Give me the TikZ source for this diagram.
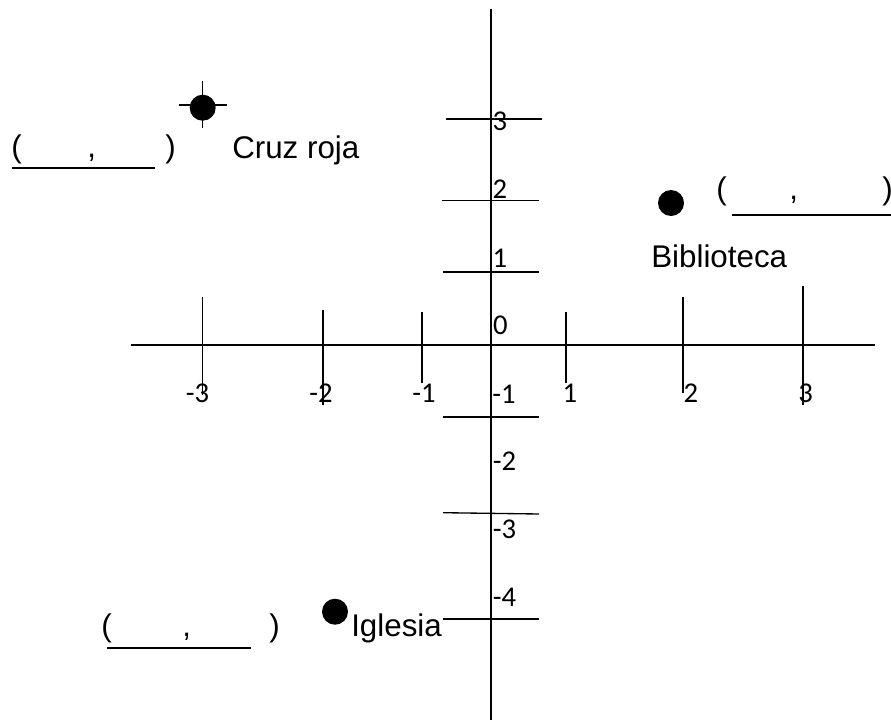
\documentclass[tikz,border=0pt]{standalone}
\usepackage{fontspec}
\setmainfont{Liberation Sans}
\newfontfamily\tickfont{Carlito}
\begin{document}
\begin{tikzpicture}[x=0.75pt,y=-0.75pt,
  axis/.style={line width=1.3pt,black},
  xtick/.style={line width=1.3pt,black},
  ytick/.style={line width=1pt,black},
  uline/.style={line width=1pt,black},
  lbl/.style={font=\fontsize{23.5}{26}\selectfont,inner sep=0pt,anchor=base west},
  num/.style={font=\tickfont\fontsize{21.5}{24}\selectfont,inner sep=0pt,anchor=base},
  dot/.style={circle,fill=black,inner sep=0pt,minimum size=19.5pt}]
\useasboundingbox (0,0) rectangle (891,724);
% axes
\coordinate (vtop) at (490.7,9);
\coordinate (vbot) at (490.7,720);
\coordinate (hl) at (131,345);
\coordinate (hr) at (875,345);
\draw[axis] (vtop) -- (vbot);
\draw[axis] (hl) -- (hr);
% x ticks
\draw[xtick] (202.5,297) -- (202.5,395);
\draw[xtick] (322.7,310) -- (322.7,405);
\draw[xtick] (421.7,312) -- (421.7,383);
\draw[xtick] (565.7,312) -- (565.7,383);
\draw[xtick] (682.7,297) -- (682.7,393);
\draw[xtick] (802.7,286) -- (802.7,405);
% y ticks
\draw[ytick] (446,119) -- (542,119);
\draw[ytick] (442,200.5) -- (539,200.5);
\draw[ytick] (443,272) -- (539,272);
\draw[ytick] (443,417) -- (539,417);
\draw[ytick] (443,512.7) -- (539,514);
\draw[ytick] (443,619) -- (539,619);
% x labels
\node[num] (xm3) at (197.5,402) {-3};
\node[num] (xm2) at (321,402) {-2};
\node[num] (xm1) at (424,402) {-1};
\node[num] (xp1) at (570,402) {1};
\node[num] (xp2) at (691,402) {2};
\node[num] (xp3) at (805.5,402) {3};
% y labels
\node[num] (yp3) at (500,130) {3};
\node[num] (yp2) at (500,198) {2};
\node[num] (yp1) at (500,267) {1};
\node[num] (y0) at (500.5,334) {0};
\node[num] (ym1) at (504,403) {-1};
\node[num] (ym2) at (504.5,470) {-2};
\node[num] (ym3) at (504.5,538) {-3};
\node[num] (ym4) at (504.5,606.5) {-4};
% Cruz roja
\node[dot] (cruz) at (202.7,107.7) {};
\draw[line width=1pt] (179,105) -- (226.7,105);
\draw[line width=1pt] (202.7,81) -- (202.7,128.3);
\node[lbl] (cruzl) at (232,158) {Cruz roja};
\node[lbl] (cp1) at (11,157) {(};
\node[lbl] (cc) at (87,157) {,};
\node[lbl] (cp2) at (165,157) {)};
\draw[uline] (12,168) -- (155,168);
% Biblioteca
\node[dot] (bib) at (671,203) {};
\node[lbl] (bibl) at (651,267) {Biblioteca};
\node[lbl] (bp1) at (716,199) {(};
\node[lbl] (bc) at (789,199) {,};
\node[lbl] (bp2) at (882,199) {)};
\draw[uline] (732,215) -- (891,215);
% Iglesia
\node[dot] (igl) at (335,611.7) {};
\node[lbl] (igll) at (351,636) {Iglesia};
\node[lbl] (ip1) at (101,636) {(};
\node[lbl] (ic) at (182,636) {,};
\node[lbl] (ip2) at (269,636) {)};
\draw[uline] (107,648) -- (251,648);
\end{tikzpicture}
\end{document}
